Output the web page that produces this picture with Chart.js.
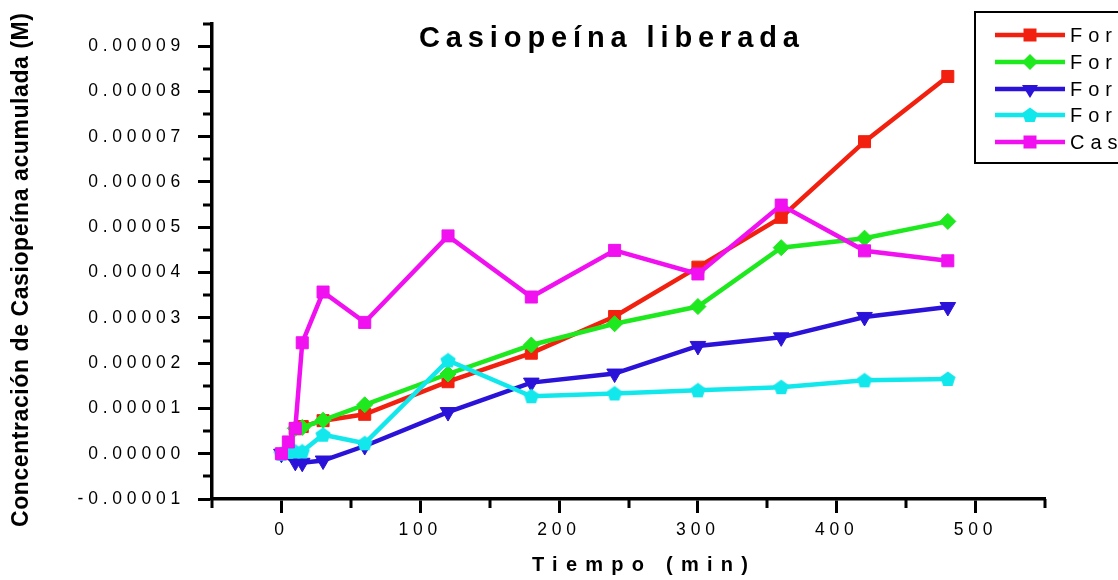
<!DOCTYPE html>
<html><head><meta charset="utf-8">
<script src="https://cdn.jsdelivr.net/npm/chart.js@4.4.1/dist/chart.umd.min.js"></script>
<style>html,body{margin:0;padding:0;background:#fff;overflow:hidden}canvas{display:block}</style>
</head><body>
<canvas id="c" width="1118" height="580"></canvas>
<script>
// ---------- data ----------
const tiempo = [0, 5, 10, 15, 30, 60, 120, 180, 240, 300, 360, 420, 480];
const seriesNames = ['Formulación 1', 'Formulación 2', 'Formulación 3', 'Formulación 4', 'Casiopeína'];
const formulacion1 = [null, null, 5.5e-6, 6.0e-6, 7.3e-6, 8.7e-6, 1.59e-5, 2.22e-5, 3.03e-5, 4.12e-5, 5.22e-5, 6.89e-5, 8.33e-5];
const formulacion2 = [null, null, 5.6e-6, 5.8e-6, 7.4e-6, 1.08e-5, 1.76e-5, 2.40e-5, 2.87e-5, 3.25e-5, 4.55e-5, 4.76e-5, 5.13e-5];
const formulacion3 = [0, null, -1.8e-6, -2.0e-6, -1.5e-6, 1.7e-6, 9.2e-6, 1.57e-5, 1.77e-5, 2.38e-5, 2.57e-5, 3.02e-5, 3.24e-5];
const formulacion4 = [0, 4e-7, 5e-7, 5e-7, 4.2e-6, 2.3e-6, 2.06e-5, 1.27e-5, 1.33e-5, 1.40e-5, 1.47e-5, 1.62e-5, 1.65e-5];
const casiopeina   = [0, 2.6e-6, 5.6e-6, 2.45e-5, 3.57e-5, 2.9e-5, 4.81e-5, 3.46e-5, 4.49e-5, 3.97e-5, 5.49e-5, 4.48e-5, 4.26e-5];
const xTickValues = [0, 100, 200, 300, 400, 500];
const xTickLabels = ['0', '100', '200', '300', '400', '500'];
const yTickValues = [-1e-5, 0, 1e-5, 2e-5, 3e-5, 4e-5, 5e-5, 6e-5, 7e-5, 8e-5, 9e-5];
const yTickLabels = ['-0.00001', '0.00000', '0.00001', '0.00002', '0.00003', '0.00004', '0.00005', '0.00006', '0.00007', '0.00008', '0.00009'];
const chartTitle = 'Casiopeína liberada';
const xTitle = 'Tiempo (min)';
const yTitle = 'Concentración de Casiopeína acumulada (M)';

// ---------- styles ----------
const FONT = "'Liberation Sans', Arial, sans-serif";
const colors = ['#f2200f', '#1ee81e', '#2b12d8', '#12e8ec', '#f010f0'];

function pentagon(color, size) {
  const c = document.createElement('canvas');
  c.width = size; c.height = size;
  const g = c.getContext('2d');
  const r = size / 2;
  g.beginPath();
  for (let k = 0; k < 5; k++) {
    const a = -Math.PI / 2 + k * 2 * Math.PI / 5;
    const px = r + r * Math.cos(a), py = r + 0.5 + r * Math.sin(a);
    k ? g.lineTo(px, py) : g.moveTo(px, py);
  }
  g.closePath(); g.fillStyle = color; g.fill();
  return c;
}
const pentImg = pentagon(colors[3], 16);
const pentImgLegend = pentagon(colors[3], 16);

const pointStyles = [
  { pointStyle: 'rect', pointRadius: 8.5, rot: 0 },
  { pointStyle: 'rectRot', pointRadius: 8, rot: 0 },
  { pointStyle: 'triangle', pointRadius: 9, rot: 180 },
  { pointStyle: pentImg, pointRadius: 8, rot: 0 },
  { pointStyle: 'rect', pointRadius: 8.5, rot: 0 },
];
const seriesData = [formulacion1, formulacion2, formulacion3, formulacion4, casiopeina];

const datasets = seriesData.map((arr, i) => ({
  label: seriesNames[i],
  data: tiempo.map((t, j) => ({ x: t, y: arr[j] })).filter(p => p.y !== null),
  borderColor: colors[i],
  backgroundColor: colors[i],
  borderWidth: 4.5,
  tension: 0,
  pointStyle: pointStyles[i].pointStyle,
  pointRadius: pointStyles[i].pointRadius,
  pointRotation: pointStyles[i].rot,
  pointBorderWidth: 1,
  pointBorderColor: colors[i],
  pointBackgroundColor: colors[i],
  order: 5 - i,
}));

const isMajorX = v => xTickValues.some(t => Math.abs(t - v) < 1e-6);
const isMajorY = v => yTickValues.some(t => Math.abs(t - v) < 1e-10);
const TICK_SP = '4.8px';

function drawFitted(ctx, text, cx, cy, targetW) {
  ctx.letterSpacing = '0px';
  const w = ctx.measureText(text).width;
  const sp = (targetW - w) / (text.length - 1);
  ctx.letterSpacing = sp + 'px';
  ctx.textAlign = 'left';
  ctx.textBaseline = 'middle';
  ctx.fillText(text, cx - targetW / 2, cy);
}

const plugin = {
  id: 'custom',
  beforeUpdate(chart) { chart.ctx.letterSpacing = TICK_SP; },
  beforeDraw(chart) {
    const ctx = chart.ctx;
    ctx.save();
    ctx.letterSpacing = '0px';
    ctx.fillStyle = '#fff';
    ctx.fillRect(0, 0, chart.width, chart.height);
    ctx.restore();
    ctx.letterSpacing = TICK_SP;
  },
  afterDraw(chart) {
    const ctx = chart.ctx;
    const xs = chart.scales.x, ys = chart.scales.y;
    const area = chart.chartArea;
    ctx.save();
    // minor ticks
    ctx.strokeStyle = '#000';
    ctx.lineWidth = 3;
    ctx.beginPath();
    for (let v = -50; v <= 550; v += 100) {
      const px = Math.round(xs.getPixelForValue(v));
      ctx.moveTo(px, area.bottom); ctx.lineTo(px, area.bottom + 9);
    }
    for (let k = -1; k <= 19; k += 2) {
      const py = Math.round(ys.getPixelForValue(k * 5e-6));
      ctx.moveTo(area.left, py); ctx.lineTo(area.left - 9, py);
    }
    ctx.stroke();

    ctx.fillStyle = '#000';
    // chart title
    ctx.font = 'bold 29px ' + FONT;
    drawFitted(ctx, chartTitle, 609, 39, 380);
    // x title
    ctx.font = 'bold 20px ' + FONT;
    drawFitted(ctx, xTitle, 640, 565, 216);
    // y title
    ctx.save();
    ctx.translate(22, 270);
    ctx.rotate(-Math.PI / 2);
    ctx.font = 'bold 23px ' + FONT;
    drawFitted(ctx, yTitle, 0, 0, 514);
    ctx.restore();

    // legend
    const lx = 975, ly = 12, lw = 200, lh = 151;
    ctx.fillStyle = '#fff';
    ctx.fillRect(lx, ly, lw, lh);
    ctx.strokeStyle = '#000';
    ctx.lineWidth = 2;
    ctx.strokeRect(lx, ly, lw, lh);
    const rows = [35, 62, 89, 115, 142];
    ctx.font = '20px ' + FONT;
    ctx.letterSpacing = '6px';
    rows.forEach((ry, i) => {
      const c = colors[i];
      ctx.strokeStyle = c; ctx.fillStyle = c; ctx.lineWidth = 4.5;
      ctx.beginPath(); ctx.moveTo(995, ry); ctx.lineTo(1065, ry); ctx.stroke();
      const mx = 1030;
      ctx.beginPath();
      if (i === 0 || i === 4) {
        ctx.rect(mx - 6.5, ry - 6.5, 13, 13); ctx.fill();
      } else if (i === 1) {
        ctx.moveTo(mx, ry - 8); ctx.lineTo(mx + 8, ry); ctx.lineTo(mx, ry + 8); ctx.lineTo(mx - 8, ry); ctx.closePath(); ctx.fill();
      } else if (i === 2) {
        ctx.moveTo(mx - 8, ry - 4); ctx.lineTo(mx + 8, ry - 4); ctx.lineTo(mx, ry + 9); ctx.closePath(); ctx.fill();
      } else {
        ctx.drawImage(pentImgLegend, mx - 8, ry - 8);
      }
      ctx.fillStyle = '#000';
      ctx.textAlign = 'left'; ctx.textBaseline = 'middle';
      ctx.fillText(seriesNames[i], 1070, ry + 1);
    });
    ctx.restore();
    ctx.letterSpacing = TICK_SP;
  }
};

new Chart(document.getElementById('c'), {
  type: 'line',
  data: { datasets },
  options: {
    responsive: false,
    animation: false,
    events: [],
    layout: { padding: { top: 10, right: 73, left: 0, bottom: 0 } },
    plugins: { legend: { display: false }, tooltip: { enabled: false }, title: { display: false } },
    scales: {
      x: {
        type: 'linear',
        min: -50, max: 550,
        afterFit(s) { s.height = 81; },
        ticks: {
          stepSize: 50, autoSkip: false, maxRotation: 0, padding: 7,
          color: '#000', font: { family: FONT, size: 17.5 },
          callback: v => { const i = xTickValues.findIndex(t => Math.abs(t - v) < 1e-6); return i >= 0 ? xTickLabels[i] : ''; }
        },
        grid: {
          drawOnChartArea: false, drawTicks: true, tickLength: 14, tickWidth: 3,
          tickColor: c => (c.tick && isMajorX(c.tick.value)) ? '#000' : 'rgba(0,0,0,0)'
        },
        border: { display: true, color: '#000', width: 3.5 }
      },
      y: {
        type: 'linear',
        min: -1e-5, max: 9.5e-5,
        afterFit(s) { s.width = 212; },
        ticks: {
          stepSize: 5e-6, autoSkip: false, padding: 13,
          color: '#000', font: { family: FONT, size: 17.5 },
          callback: v => { const i = yTickValues.findIndex(t => Math.abs(t - v) < 1e-10); return i >= 0 ? yTickLabels[i] : ''; }
        },
        grid: {
          drawOnChartArea: false, drawTicks: true, tickLength: 14, tickWidth: 3,
          tickColor: c => (c.tick && isMajorY(c.tick.value)) ? '#000' : 'rgba(0,0,0,0)'
        },
        border: { display: true, color: '#000', width: 3.5 }
      }
    }
  },
  plugins: [plugin]
});
</script>
</body></html>
